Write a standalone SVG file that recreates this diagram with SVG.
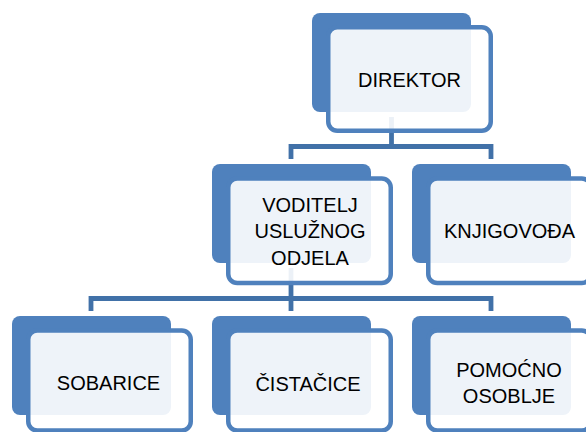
<svg xmlns="http://www.w3.org/2000/svg" width="586" height="432" viewBox="0 0 586 432">
<style>
.back{fill:#4f81bd;}
.front{fill:#ffffff;fill-opacity:0.9;stroke:#4f81bd;stroke-width:4.5;}
.conn{fill:none;stroke:#4171a8;stroke-width:4.8;stroke-linejoin:miter;}
text{font-family:"Liberation Sans",Arial,sans-serif;font-size:20px;fill:#000;text-anchor:middle;}
</style>
<rect width="586" height="432" fill="#ffffff"/>
<g id="connectors">
<path class="conn" d="M391.5 117 V146.5"/>
<path class="conn" d="M291 159 V146.5 H491 V159"/>
<path class="conn" d="M291 268 V298.5"/>
<path class="conn" d="M91 311 V298.5 H491 V311"/>
<path class="conn" d="M291 298.5 V311"/>
</g>
<g id="direktor">
<rect class="back" x="312" y="13" width="159" height="99" rx="8"/>
<rect class="front" x="328.25" y="27.25" width="162.5" height="103.5" rx="9"/>
<text x="409.5" y="87">DIREKTOR</text>
</g>
<g id="voditelj">
<rect class="back" x="212" y="164" width="159" height="99" rx="8"/>
<rect class="front" x="228.25" y="178.5" width="162.5" height="104.5" rx="9"/>
<text x="310" y="211.5">VODITELJ</text>
<text x="310" y="238">USLUŽNOG</text>
<text x="310" y="264.5">ODJELA</text>
</g>
<g id="knjigovoda">
<rect class="back" x="412" y="164" width="159" height="99" rx="8"/>
<rect class="front" x="428.25" y="178.5" width="162.5" height="104.5" rx="9"/>
<text x="509.5" y="238">KNJIGOVOĐA</text>
</g>
<g id="sobarice">
<rect class="back" x="12" y="316" width="159" height="99" rx="8"/>
<rect class="front" x="28.25" y="330.5" width="162.5" height="100" rx="9"/>
<text x="108.5" y="390">SOBARICE</text>
</g>
<g id="cistacice">
<rect class="back" x="212" y="316" width="159" height="99" rx="8"/>
<rect class="front" x="228.25" y="330.5" width="162.5" height="100" rx="9"/>
<text x="308" y="390.5">ČISTAČICE</text>
</g>
<g id="pomocno">
<rect class="back" x="412" y="316" width="159" height="99" rx="8"/>
<rect class="front" x="428.25" y="330.5" width="162.5" height="100" rx="9"/>
<text x="509" y="376.5">POMOĆNO</text>
<text x="509" y="403">OSOBLJE</text>
</g>
</svg>
